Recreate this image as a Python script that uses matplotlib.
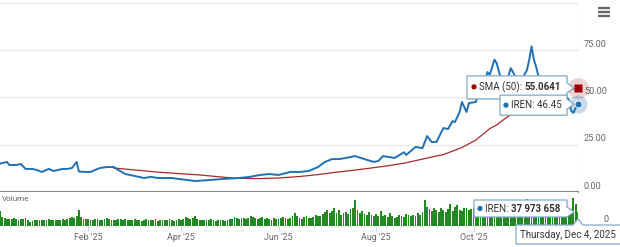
import numpy as np
import pandas as pd
import matplotlib
matplotlib.use('Agg')
from matplotlib import pyplot as plt
from matplotlib.lines import Line2D
from matplotlib.patches import Polygon, Circle
from matplotlib.transforms import IdentityTransform, ScaledTranslation

plt.rcParams['font.family'] = ['Roboto', 'DejaVu Sans']

W, H = 620, 247

# --- data -----------------------------------------------------------------
holidays = ['2024-12-25', '2025-01-01', '2025-01-09', '2025-01-20', '2025-02-17',
            '2025-04-18', '2025-05-26', '2025-06-19', '2025-07-04', '2025-09-01',
            '2025-11-27']
trading_days = pd.bdate_range('2024-12-05', '2025-12-04', freq='C', holidays=holidays)

price_dates = [
    '2024-12-05', '2024-12-10', '2024-12-11', '2024-12-16', '2024-12-18', '2024-12-20',
    '2024-12-26', '2024-12-30', '2025-01-02', '2025-01-07', '2025-01-10', '2025-01-16',
    '2025-01-21', '2025-01-23', '2025-01-27', '2025-01-28', '2025-01-31', '2025-02-04',
    '2025-02-10', '2025-02-13', '2025-02-19', '2025-02-21', '2025-02-26', '2025-03-04',
    '2025-03-10', '2025-03-13', '2025-03-18', '2025-03-26', '2025-03-31', '2025-04-09',
    '2025-04-17', '2025-04-28', '2025-05-07', '2025-05-13', '2025-05-20', '2025-05-27',
    '2025-06-02', '2025-06-09', '2025-06-13', '2025-06-20', '2025-06-26', '2025-07-01',
    '2025-07-07', '2025-07-10', '2025-07-15', '2025-07-21', '2025-07-25', '2025-07-31',
    '2025-08-04', '2025-08-06', '2025-08-13', '2025-08-19', '2025-08-20', '2025-08-26',
    '2025-08-29', '2025-09-03', '2025-09-05', '2025-09-09', '2025-09-12', '2025-09-16',
    '2025-09-18', '2025-09-19', '2025-09-23', '2025-09-24', '2025-09-26', '2025-09-29',
    '2025-10-02', '2025-10-03', '2025-10-08', '2025-10-09', '2025-10-10', '2025-10-14',
    '2025-10-15', '2025-10-17', '2025-10-21', '2025-10-23', '2025-10-24', '2025-10-27',
    '2025-10-29', '2025-11-03', '2025-11-04', '2025-11-05', '2025-11-06', '2025-11-07',
    '2025-11-10', '2025-11-12', '2025-11-14', '2025-11-17', '2025-11-19', '2025-11-21',
    '2025-11-24', '2025-11-26', '2025-11-28', '2025-12-01', '2025-12-02', '2025-12-03',
    '2025-12-04',
]
price_values = [
    15.0, 15.9, 14.3, 14.3, 14.8, 12.2,
    12.2, 11.6, 10.6, 12.2, 11.1, 12.2,
    12.2, 12.7, 15.9, 10.8, 10.6, 10.6,
    12.7, 13.2, 13.2, 11.6, 9.5, 8.5,
    7.4, 8.0, 7.4, 7.4, 6.9, 5.8,
    6.3, 6.9, 7.4, 7.9, 9.0, 9.5,
    9.0, 10.6, 10.6, 11.1, 13.2, 15.9,
    17.4, 17.4, 18.0, 19.0, 17.4, 15.9,
    16.4, 19.0, 18.0, 21.0, 19.6, 23.8,
    23.2, 29.6, 26.4, 26.4, 33.8, 33.3,
    37.5, 37.0, 42.3, 47.6, 42.3, 47.0,
    47.6, 52.0, 59.0, 63.4, 62.0, 70.0,
    68.0, 59.0, 57.0, 65.5, 63.4, 61.0,
    58.0, 64.5, 70.0, 77.0, 70.0, 66.0,
    61.0, 58.0, 55.0, 52.0, 50.0, 45.0,
    48.0, 50.0, 49.0, 43.0, 41.8, 44.5,
    46.45,
]

sma_dates = ['2025-02-19', '2025-03-18', '2025-04-11', '2025-05-06', '2025-05-20',
             '2025-06-02', '2025-06-13', '2025-06-26', '2025-07-07', '2025-07-21',
             '2025-08-06', '2025-08-19', '2025-09-05', '2025-09-12', '2025-09-24',
             '2025-10-02', '2025-10-08', '2025-10-10', '2025-10-15', '2025-10-21',
             '2025-10-27', '2025-11-05', '2025-11-14', '2025-11-24', '2025-12-04']
sma_values = [12.7, 10.5, 9.0, 7.2, 7.1,
              7.4, 8.2, 9.2, 10.2, 11.6,
              13.5, 15.2, 18.5, 19.8, 23.5,
              27.5, 31.5, 33.5, 35.5, 39.2,
              42.5, 47.0, 51.0, 53.5, 55.0641]

# daily volume in millions, one value per trading day, month by month
vol_dec24 = [40, 24, 21, 19, 20, 18, 22, 19, 17, 20, 18, 21, 16, 10, 14, 17, 15, 16]
vol_jan = [15, 17, 16, 18, 15, 16, 17, 15, 16, 18, 17, 20, 22, 24, 21, 26, 43, 24, 20, 18]
vol_feb = [19, 17, 16, 18, 20, 17, 16, 19, 22, 18, 17, 16, 15, 18, 20, 17, 19, 16, 15]
vol_mar = [16, 18, 17, 15, 14, 16, 19, 17, 15, 16, 18, 14, 15, 17, 16, 15, 18, 17, 14, 16, 19]
vol_apr = [17, 20, 24, 22, 19, 21, 26, 18, 17, 16, 15, 17, 16, 18, 15, 14, 17, 16, 15, 14, 16]
vol_may = [18, 20, 24, 22, 19, 21, 23, 20, 22, 26, 24, 21, 19, 23, 25, 20, 22, 18, 17, 21, 19]
vol_jun = [20, 22, 24, 21, 19, 23, 26, 34, 28, 22, 20, 24, 27, 21, 23, 25, 30, 28, 26, 32]
vol_jul = [38, 44, 35, 40, 49, 36, 42, 30, 34, 38, 32, 45, 50, 70, 42, 36, 40, 33, 29, 38, 31, 27]
vol_aug = [32, 28, 40, 26, 30, 24, 35, 28, 22, 25, 30, 27, 24, 33, 29, 26, 31, 28, 35, 30, 38]
vol_sep = [70, 52, 45, 40, 48, 42, 38, 50, 44, 39, 46, 59, 41, 52, 57, 44, 40, 48, 50, 43, 47]
vol_oct = [48, 52, 45, 50, 70, 55, 46, 60, 52, 58, 44, 50, 47, 53, 49, 45, 55, 51, 48, 46, 50, 44, 52]
vol_nov = [73, 60, 55, 50, 45, 48, 52, 46, 44, 40, 47, 42, 45, 50, 41, 38, 44, 36, 49]
vol_dec25 = [45, 76, 59, 37.973658]

volume = np.array(vol_dec24 + vol_jan + vol_feb + vol_mar + vol_apr + vol_may + vol_jun
                  + vol_jul + vol_aug + vol_sep + vol_oct + vol_nov + vol_dec25) * 1e6
assert len(volume) == len(trading_days)

tick_months = ['2025-02-01', '2025-04-01', '2025-06-01', '2025-08-01', '2025-10-01']
tick_labels = ["Feb '25", "Apr '25", "Jun '25", "Aug '25", "Oct '25"]
price_ticks = [0, 25, 50, 75, 100]

# --- colours ----------------------------------------------------------------
BLUE = '#2070b4'
RED = '#a52a2a'
GREEN = '#238a23'
GREY_TXT = '#666666'
GRID = '#e6e6e6'
TIP_EDGE = '#86a9c9'


def to_index(dates):
    return trading_days.searchsorted(pd.to_datetime(dates))


price_x = to_index(price_dates)
sma_x = to_index(sma_dates)
vol_x = np.arange(len(trading_days))
last = len(trading_days) - 1

fig = plt.figure(figsize=(W / 100, H / 100), dpi=100)
ax_p = fig.add_axes([0, (H - 192) / H, 578 / W, 191 / H])
ax_v = fig.add_axes([0, (H - 226) / H, 578 / W, 34 / H])

# price pane
for v in price_ticks[1:]:
    ax_p.axhline(v, color=GRID, lw=0.8, zorder=0)
ax_p.axvline(last, color='#cccccc', lw=0.8, zorder=0)
ax_p.plot(sma_x, sma_values, color=RED, lw=0.9, zorder=2)
ax_p.plot(price_x, price_values, color=BLUE, lw=1.4, zorder=3)
ax_p.set_xlim(0, last)
ax_p.set_ylim(0, 101)
ax_p.set_xticks([])
ax_p.set_yticks([])
for s in ['top', 'left', 'right']:
    ax_p.spines[s].set_visible(False)
ax_p.spines['bottom'].set_color('#8a8a8a')
ax_p.spines['bottom'].set_linewidth(1.5)

lab_tr = ax_p.get_yaxis_transform() + ScaledTranslation(6 / 100, 1.5 / 100, fig.dpi_scale_trans)
for v in price_ticks[:-1]:
    ax_p.text(1, v, f'{v:.2f}', transform=lab_tr, ha='left', va='bottom',
              fontsize=6.6, color=GREY_TXT, clip_on=False)

# last point markers
ax_p.plot(last, sma_values[-1], marker='o', ms=15, color=RED, alpha=0.2,
          clip_on=False, zorder=4, mec='none')
ax_p.plot(last, sma_values[-1], marker='s', ms=6.3, color='#9e0000',
          clip_on=False, zorder=5, mec='none')
ax_p.plot(last, price_values[-1], marker='o', ms=13, color=BLUE, alpha=0.25,
          clip_on=False, zorder=4, mec='none')
ax_p.plot(last, price_values[-1], marker='o', ms=5, color=BLUE,
          clip_on=False, zorder=5, mec='white', mew=0.6)

# volume pane
ax_v.bar(vol_x, volume, width=0.78, color=GREEN, linewidth=0)
ax_v.set_xlim(0, last)
ax_v.set_ylim(0, 92e6)
ax_v.set_yticks([])
for s in ['top', 'left', 'right', 'bottom']:
    ax_v.spines[s].set_visible(False)
ax_v.set_xticks(to_index(tick_months))
ax_v.set_xticklabels(tick_labels)
ax_v.tick_params(axis='x', length=3.6, width=0.8, color='#ccd6eb',
                 labelcolor=GREY_TXT, labelsize=6.4, pad=1.5)
vol_tr = ax_v.get_yaxis_transform() + ScaledTranslation(26 / 100, 2 / 100, fig.dpi_scale_trans)
ax_v.text(1, 0, '0', transform=vol_tr, ha='left', va='bottom', fontsize=6.6,
          color=GREY_TXT, clip_on=False)
fig.text(2 / W, 1 - 199 / H, 'Volume', fontsize=5.9, color=GREY_TXT, va='center')

# hamburger menu icon
for y in (8, 12, 16):
    fig.add_artist(Line2D([598, 610], [H - y, H - y], transform=IdentityTransform(),
                          color=GREY_TXT, lw=1.7, solid_capstyle='butt'))

# --- tooltips ---------------------------------------------------------------
renderer = fig.canvas.get_renderer()
ident = IdentityTransform()


def disp(ax, x, y):
    return ax.transData.transform((x, y))


def callout(left, top, right, bottom, tip, side='right'):
    # box corners given in display pixels (y up); tip in display pixels
    tx, ty = tip
    if side == 'right':
        ty = min(max(ty, bottom + 5), top - 5)
        pts = [(left, top), (right, top), (right, ty + 5), (tx, ty), (right, ty - 5),
               (right, bottom), (left, bottom)]
    else:
        pts = [(left, top), (tx - 5, top), (tx, top + 6), (tx + 5, top), (right, top),
               (right, bottom), (left, bottom)]
    shadow = Polygon([(x + 1, y - 1) for x, y in pts], closed=True, transform=ident,
                     facecolor='black', alpha=0.08, edgecolor='none')
    box = Polygon(pts, closed=True, transform=ident, facecolor='white',
                  edgecolor=TIP_EDGE, lw=0.9)
    fig.add_artist(shadow)
    fig.add_artist(box)


def tip_text(x, y, parts, dot=None):
    if dot is not None:
        fig.add_artist(Circle((x + 2, y), 1.9, transform=ident, color=dot))
        x += 7
    for s, bold in parts:
        t = fig.text(x, y, s, transform=ident, fontsize=7, color='#333333',
                     fontweight='bold' if bold else 'normal', va='center', ha='left')
        x += t.get_window_extent(renderer).width


sx, sy = disp(ax_p, last, sma_values[-1])
callout(sx - 111, sy + 12, sx - 11, sy - 11, (sx - 4, sy))
tip_text(sx - 106, sy + 1, [('SMA (50): ', False), ('55.0641', True)], dot='#9e0000')

px_, py_ = disp(ax_p, last, price_values[-1])
callout(px_ - 78, py_ + 9, px_ - 11, py_ - 11, (px_ - 4, py_))
tip_text(px_ - 74, py_ - 1, [('IREN: 46.45', False)], dot=BLUE)

vx, vy = disp(ax_v, last, volume[-1])
callout(vx - 104, H - 200, vx - 11, H - 217, (vx - 4, vy))
tip_text(vx - 100, H - 208.5, [('IREN: ', False), ('37 973 658', True)], dot=BLUE)

callout(vx - 62, H - 225, W + 5, H - 244, (vx, 0), side='up')
fig.text(vx - 58, H - 235, 'Thursday, Dec 4, 2025', transform=ident, fontsize=7,
         color='#333333', va='center', ha='left')

fig.savefig('out.png', dpi=100)
